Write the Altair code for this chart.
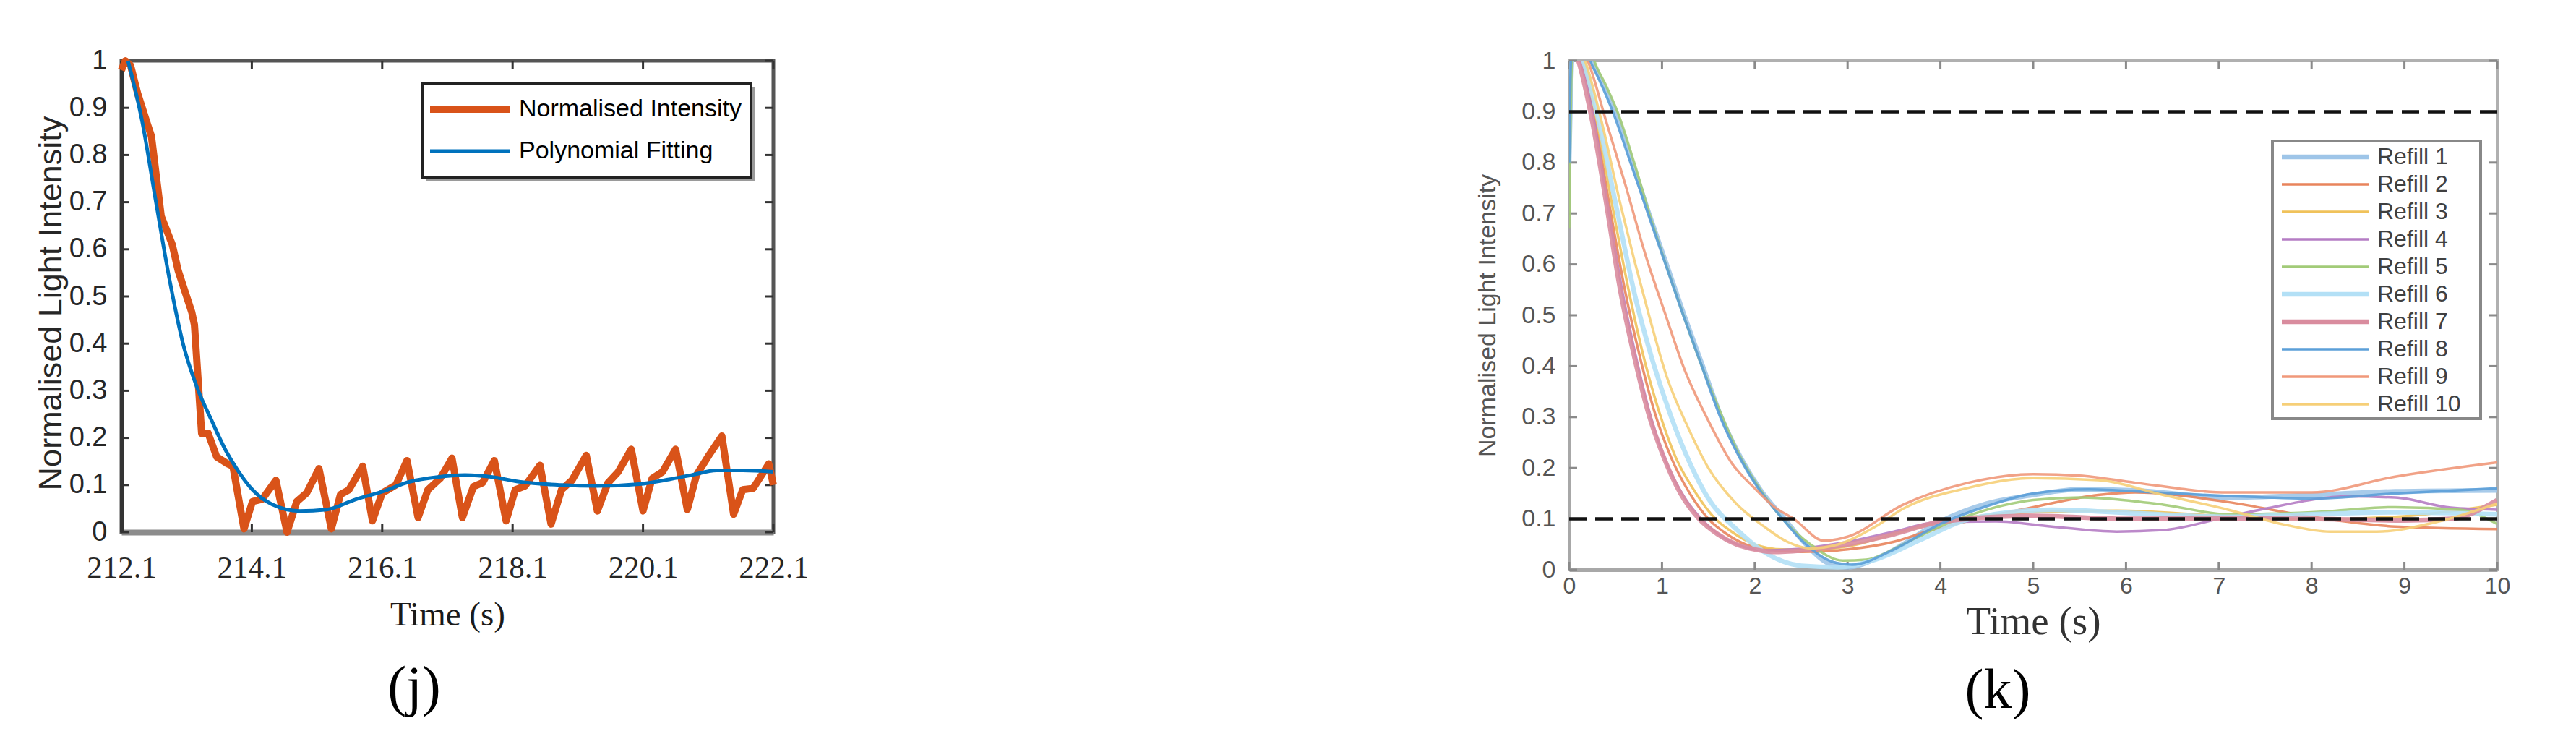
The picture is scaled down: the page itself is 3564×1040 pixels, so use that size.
import altair as alt
import pandas as pd

# ---------------- panel (j) data ----------------
J_ORANGE_T = [212.10, 212.16, 212.24, 212.35, 212.50, 212.56, 212.71, 212.88, 212.97, 213.18,
              213.22, 213.33, 213.43, 213.56, 213.73, 213.81, 213.98, 214.11, 214.26, 214.47,
              214.64, 214.79, 214.94, 215.13, 215.32, 215.46, 215.59, 215.80, 215.95, 216.10,
              216.31, 216.48, 216.65, 216.80, 216.99, 217.17, 217.33, 217.50, 217.64, 217.82,
              218.00, 218.14, 218.29, 218.52, 218.69, 218.85, 219.01, 219.23, 219.40, 219.56,
              219.72, 219.92, 220.10, 220.24, 220.40, 220.60, 220.78, 220.92, 221.11, 221.31,
              221.49, 221.63, 221.79, 222.03, 222.10]
J_ORANGE_V = [0.98, 1.00, 0.99, 0.93, 0.865, 0.84, 0.67, 0.61, 0.555, 0.466,
              0.44, 0.21, 0.21, 0.16, 0.145, 0.14, 0.007, 0.065, 0.07, 0.11,
              0.0, 0.065, 0.083, 0.135, 0.007, 0.08, 0.09, 0.14, 0.024, 0.083,
              0.10, 0.152, 0.031, 0.09, 0.114, 0.157, 0.031, 0.097, 0.105, 0.152,
              0.024, 0.09, 0.098, 0.142, 0.017, 0.09, 0.11, 0.163, 0.045, 0.104,
              0.128, 0.176, 0.045, 0.114, 0.128, 0.176, 0.048, 0.121, 0.163, 0.204,
              0.038, 0.09, 0.093, 0.145, 0.10]
J_FIT_T = [212.20, 212.42, 212.63, 212.84, 213.05, 213.26, 213.48, 213.69, 213.90, 214.11,
           214.41, 214.83, 215.25, 215.68, 216.10, 216.52, 216.95, 217.37, 217.79, 218.20,
           218.85, 219.40, 220.04, 220.50, 220.84, 221.23, 221.63, 222.10]
J_FIT_V = [1.0, 0.87, 0.70, 0.534, 0.397, 0.307, 0.238, 0.176, 0.128, 0.09,
           0.059, 0.045, 0.048, 0.069, 0.086, 0.107, 0.117, 0.121, 0.117, 0.107,
           0.10, 0.098, 0.102, 0.112, 0.121, 0.131, 0.131, 0.128]
J_SERIES = ["Normalised Intensity", "Polynomial Fitting"]
J_COLORS = ["#D95319", "#0072BD"]
J_WIDTHS = [10, 5]
J_XTICKS = [212.1, 214.1, 216.1, 218.1, 220.1, 222.1]
J_YTICKS = [0, 0.1, 0.2, 0.3, 0.4, 0.5, 0.6, 0.7, 0.8, 0.9, 1]

# ---------------- panel (k) data ----------------
K_R1_T = [0, 0.03, 0.1, 0.2, 0.35, 0.5, 0.68, 0.86, 1.05, 1.24, 1.44, 1.64, 1.85, 2.05, 2.32, 2.55, 2.8, 3.0, 3.4, 4.0, 4.5, 5.0, 5.5, 6.1, 7.1, 8.0, 8.9, 10]
K_R1_V = [0.8, 1.0, 1.08, 1.02, 0.96, 0.9, 0.8, 0.7, 0.6, 0.5, 0.4, 0.3, 0.22, 0.16, 0.1, 0.05, 0.012, 0.005, 0.03, 0.095, 0.13, 0.147, 0.158, 0.156, 0.142, 0.147, 0.154, 0.156]
K_R2_T = [0, 0.13, 0.28, 0.44, 0.6, 0.76, 0.92, 1.1, 1.3, 1.5, 1.7, 1.9, 2.15, 2.5, 3.0, 3.5, 3.85, 4.4, 5.0, 5.7, 6.1, 7.1, 8.0, 8.9, 10]
K_R2_V = [1.05, 1.0, 0.88, 0.71, 0.55, 0.42, 0.31, 0.22, 0.15, 0.1, 0.07, 0.05, 0.04, 0.035, 0.04, 0.055, 0.075, 0.1, 0.123, 0.147, 0.152, 0.133, 0.104, 0.085, 0.08]
K_R3_T = [0, 0.15, 0.3, 0.47, 0.64, 0.8, 0.97, 1.15, 1.35, 1.55, 1.75, 2.0, 2.3, 2.7, 3.0, 3.5, 4.0, 5.0, 5.9, 7.0, 8.0, 8.9, 10]
K_R3_V = [1.05, 1.0, 0.88, 0.71, 0.55, 0.42, 0.31, 0.22, 0.155, 0.105, 0.075, 0.05, 0.04, 0.04, 0.046, 0.07, 0.094, 0.113, 0.116, 0.106, 0.099, 0.104, 0.128]
K_R4_T = [0, 0.12, 0.27, 0.42, 0.58, 0.73, 0.88, 1.05, 1.25, 1.45, 1.65, 1.85, 2.1, 2.4, 3.0, 3.5, 4.0, 4.6, 5.2, 5.9, 6.4, 7.0, 7.5, 8.4, 8.9, 9.5, 10]
K_R4_V = [1.05, 1.0, 0.88, 0.71, 0.54, 0.41, 0.3, 0.21, 0.14, 0.095, 0.065, 0.047, 0.038, 0.04, 0.055, 0.075, 0.094, 0.095, 0.085, 0.075, 0.078, 0.1, 0.12, 0.144, 0.142, 0.122, 0.118]
K_R5_T = [0, 0.03, 0.15, 0.27, 0.4, 0.52, 0.7, 0.88, 1.06, 1.25, 1.45, 1.65, 1.85, 2.05, 2.3, 2.6, 2.95, 3.2, 3.6, 4.0, 5.0, 5.5, 6.4, 7.1, 8.0, 8.9, 9.6, 10]
K_R5_V = [0.67, 1.0, 1.08, 1.0, 0.95, 0.9, 0.8, 0.69, 0.59, 0.49, 0.39, 0.3, 0.22, 0.16, 0.1, 0.05, 0.018, 0.02, 0.05, 0.085, 0.137, 0.142, 0.128, 0.109, 0.113, 0.123, 0.118, 0.09]
K_R6_T = [0, 0.15, 0.32, 0.5, 0.72, 0.9, 1.1, 1.3, 1.5, 1.8, 2.1, 2.5, 2.9, 3.3, 3.8, 4.3, 5.2, 6.1, 7.1, 8.0, 8.9, 10]
K_R6_V = [1.05, 1.0, 0.88, 0.72, 0.53, 0.41, 0.3, 0.21, 0.14, 0.08, 0.035, 0.008, 0.005, 0.02, 0.06, 0.099, 0.118, 0.111, 0.104, 0.109, 0.113, 0.109]
K_R7_T = [0, 0.1, 0.25, 0.4, 0.55, 0.7, 0.85, 1.0, 1.2, 1.4, 1.6, 1.8, 2.0, 2.2, 2.5, 3.0, 3.5, 4.0, 5.0, 6.0, 7.0, 8.0, 9.0, 9.5, 10]
K_R7_V = [1.05, 1.0, 0.88, 0.72, 0.55, 0.42, 0.31, 0.23, 0.15, 0.1, 0.07, 0.05, 0.04, 0.035, 0.038, 0.05, 0.07, 0.094, 0.106, 0.1, 0.101, 0.1, 0.097, 0.1, 0.137]
K_R8_T = [0, 0.02, 0.1, 0.2, 0.33, 0.47, 0.66, 0.85, 1.04, 1.23, 1.43, 1.63, 1.84, 2.04, 2.3, 2.55, 2.85, 3.05, 3.5, 4.0, 4.5, 5.0, 5.6, 6.3, 7.1, 8.0, 8.9, 10]
K_R8_V = [0.8, 1.0, 1.06, 1.01, 0.96, 0.9, 0.8, 0.7, 0.6, 0.5, 0.4, 0.3, 0.22, 0.16, 0.1, 0.05, 0.015, 0.01, 0.04, 0.09, 0.125, 0.15, 0.158, 0.152, 0.145, 0.14, 0.15, 0.16]
K_R9_T = [0, 0.2, 0.4, 0.6, 0.82, 1.04, 1.25, 1.48, 1.75, 2.0, 2.2, 2.42, 2.75, 3.0, 3.6, 4.3, 5.0, 5.5, 6.1, 7.1, 8.0, 8.9, 10]
K_R9_V = [1.05, 1.0, 0.88, 0.76, 0.62, 0.5, 0.39, 0.3, 0.21, 0.16, 0.125, 0.1, 0.057, 0.065, 0.128, 0.171, 0.188, 0.185, 0.171, 0.152, 0.152, 0.183, 0.211]
K_R10_T = [0, 0.17, 0.35, 0.55, 0.86, 1.05, 1.28, 1.5, 1.8, 2.1, 2.35, 2.6, 2.9, 3.3, 3.6, 4.3, 5.0, 5.7, 6.4, 7.1, 7.7, 8.2, 8.7, 9.35, 10]
K_R10_V = [1.05, 1.0, 0.88, 0.72, 0.5, 0.38, 0.28, 0.2, 0.13, 0.085, 0.055, 0.042, 0.05, 0.085, 0.12, 0.161, 0.18, 0.176, 0.147, 0.118, 0.089, 0.075, 0.075, 0.094, 0.13]
K_SERIES = ["Refill 1", "Refill 2", "Refill 3", "Refill 4", "Refill 5",
            "Refill 6", "Refill 7", "Refill 8", "Refill 9", "Refill 10"]
K_COLORS = ["#9EC5E8", "#E8845C", "#F0C25A", "#B57CC4", "#A2CB78",
            "#B3E0F6", "#D98C9E", "#5B9FD8", "#F0987A", "#F6CF78"]
K_WIDTHS = [6.5, 3.5, 3.5, 3.5, 3.5, 6.5, 6.5, 3.5, 3.5, 3.5]
K_THRESHOLDS = [0.9, 0.1]
K_XTICKS = [0, 1, 2, 3, 4, 5, 6, 7, 8, 9, 10]
K_YTICKS = [0, 0.1, 0.2, 0.3, 0.4, 0.5, 0.6, 0.7, 0.8, 0.9, 1]

# ---------------- layout ----------------
WJ, HJ = 902, 652
WK, HK = 1284, 704
TICK_LEN = 11


def frame_ticks(xticks, yticks, xdom, ydom, w, h, length):
    dx = (xdom[1] - xdom[0]) * length / w
    dy = (ydom[1] - ydom[0]) * length / h
    rows = []
    for t in xticks:
        rows.append(dict(x=t, x2=t, y=ydom[0], y2=ydom[0] + dy))
        rows.append(dict(x=t, x2=t, y=ydom[1], y2=ydom[1] - dy))
    for v in yticks:
        rows.append(dict(x=xdom[0], x2=xdom[0] + dx, y=v, y2=v))
        rows.append(dict(x=xdom[1], x2=xdom[1] - dx, y=v, y2=v))
    return pd.DataFrame(rows)


def legend_layers(series, colors, widths, box, row0, step, sym0, sym1, label_x,
                  font_size, label_color, box_color, box_width, shadow_color=None):
    """Box legend inside the plot area (pixel positions are layout constants)."""
    items = pd.DataFrame({"series": series, "color": colors, "w": widths,
                          "py": [row0 + i * step for i in range(len(series))]})
    one = pd.DataFrame({"k": [0]})
    layers = []
    if shadow_color:
        layers.append(alt.Chart(one).mark_rect(fill=shadow_color).encode(
            x=alt.value(box[0] + 5), x2=alt.value(box[1] + 5),
            y=alt.value(box[2] + 5), y2=alt.value(box[3] + 5)))
    layers.append(alt.Chart(one).mark_rect(fill="white", stroke=box_color, strokeWidth=box_width).encode(
        x=alt.value(box[0]), x2=alt.value(box[1]), y=alt.value(box[2]), y2=alt.value(box[3])))
    layers.append(alt.Chart(items).mark_rule().encode(
        x=alt.value(sym0), x2=alt.value(sym1), y=alt.Y("py:Q", scale=None),
        color=alt.Color("color:N", scale=None, legend=None),
        strokeWidth=alt.StrokeWidth("w:Q", scale=None, legend=None)))
    layers.append(alt.Chart(items).mark_text(
        align="left", baseline="middle", font="Liberation Sans", fontSize=font_size,
        color=label_color).encode(x=alt.value(label_x), y=alt.Y("py:Q", scale=None), text="series:N"))
    return layers


# ================= panel (j) =================
XDOM_J = [212.1, 222.1]
YDOM = [0, 1]
xs_j = alt.Scale(domain=XDOM_J, nice=False, zero=False)
ys_j = alt.Scale(domain=YDOM, nice=False, zero=False)
xa_j = alt.Axis(values=J_XTICKS, format=".1f", title="Time (s)", grid=False, ticks=False,
                domainColor="#8c8c8c", domainWidth=8, labelFont="Liberation Serif",
                labelFontSize=43, labelColor="#262626", labelPadding=28, labelFlush=False,
                labelOverlap=False, titleFont="Liberation Serif", titleFontSize=47,
                titleFontWeight="normal", titleColor="#1a1a1a", titlePadding=20)
ya_j = alt.Axis(values=J_YTICKS, format="~g", title="Normalised Light Intensity", grid=False,
                ticks=False, domainColor="#333333", domainWidth=5, labelFont="Liberation Sans",
                labelFontSize=38, labelColor="#262626", labelPadding=20, labelFlush=False,
                labelOverlap=False, titleFont="Liberation Sans", titleFontSize=45,
                titleFontWeight="normal", titleColor="#262626", titlePadding=2,
                titleY=HJ / 2 + 9)
color_j = alt.Color("series:N", scale=alt.Scale(domain=J_SERIES, range=J_COLORS), legend=None)
width_j = alt.StrokeWidth("w:Q", scale=None, legend=None)

df_orange = pd.DataFrame({"t": J_ORANGE_T, "v": J_ORANGE_V, "series": J_SERIES[0], "w": J_WIDTHS[0]})
df_fit = pd.DataFrame({"t": J_FIT_T, "v": J_FIT_V, "series": J_SERIES[1], "w": J_WIDTHS[1]})
ticks_j = frame_ticks(J_XTICKS, J_YTICKS, XDOM_J, YDOM, WJ, HJ, TICK_LEN)

tick_layer_j = alt.Chart(ticks_j).mark_rule(color="#333333", strokeWidth=3).encode(
    x=alt.X("x:Q", scale=xs_j, axis=xa_j), x2="x2:Q",
    y=alt.Y("y:Q", scale=ys_j, axis=ya_j), y2="y2:Q")
orange_layer = alt.Chart(df_orange).mark_line(strokeJoin="round").encode(
    x=alt.X("t:Q", scale=xs_j, axis=xa_j), y=alt.Y("v:Q", scale=ys_j, axis=ya_j),
    color=color_j, strokeWidth=width_j)
fit_layer = alt.Chart(df_fit).mark_line(interpolate="monotone").encode(
    x=alt.X("t:Q", scale=xs_j, axis=xa_j), y=alt.Y("v:Q", scale=ys_j, axis=ya_j),
    color=color_j, strokeWidth=width_j)
leg_j = legend_layers(J_SERIES, J_COLORS, J_WIDTHS, box=(416, 871, 31, 161), row0=67, step=58,
                      sym0=427, sym1=538, label_x=550, font_size=34, label_color="black",
                      box_color="#222222", box_width=4, shadow_color="#9a9a9a")

left = alt.layer(tick_layer_j, orange_layer, fit_layer, *leg_j).properties(
    width=WJ, height=HJ,
    view=alt.ViewBackground(stroke="#555555", strokeWidth=5),
    title=alt.TitleParams("(j)", orient="bottom", anchor="middle", font="Liberation Serif",
                          fontSize=78, fontWeight="normal", color="black", offset=40, dx=-46))

# ================= panel (k) =================
XDOM_K = [0, 10]
xs_k = alt.Scale(domain=XDOM_K, nice=False, zero=False)
ys_k = alt.Scale(domain=YDOM, nice=False, zero=False)
xa_k = alt.Axis(values=K_XTICKS, format="d", title="Time (s)", grid=False, ticks=False,
                domainColor="#a8a8a8", domainWidth=5, labelFont="Liberation Sans",
                labelFontSize=32, labelColor="#555555", labelPadding=7, labelFlush=False,
                labelOverlap=False, titleFont="Liberation Serif", titleFontSize=55,
                titleFontWeight="normal", titleColor="#333333", titlePadding=7)
ya_k = alt.Axis(values=K_YTICKS, format="~g", title="Normalised Light Intensity", grid=False,
                ticks=False, domainColor="#a8a8a8", domainWidth=5, labelFont="Liberation Sans",
                labelFontSize=34, labelColor="#555555", labelPadding=19, labelFlush=False,
                labelOverlap=False, titleFont="Liberation Sans", titleFontSize=34,
                titleFontWeight="normal", titleColor="#555555", titlePadding=29)

frames = []
for name, wdt, t, v in zip(K_SERIES, K_WIDTHS,
                           [K_R1_T, K_R2_T, K_R3_T, K_R4_T, K_R5_T, K_R6_T, K_R7_T, K_R8_T, K_R9_T, K_R10_T],
                           [K_R1_V, K_R2_V, K_R3_V, K_R4_V, K_R5_V, K_R6_V, K_R7_V, K_R8_V, K_R9_V, K_R10_V]):
    frames.append(pd.DataFrame({"t": t, "v": v, "series": name, "w": wdt}))
df_k = pd.concat(frames, ignore_index=True)
ticks_k = frame_ticks(K_XTICKS, K_YTICKS, XDOM_K, YDOM, WK, HK, TICK_LEN)

tick_layer_k = alt.Chart(ticks_k).mark_rule(color="#8a8a8a", strokeWidth=3).encode(
    x=alt.X("x:Q", scale=xs_k, axis=xa_k), x2="x2:Q",
    y=alt.Y("y:Q", scale=ys_k, axis=ya_k), y2="y2:Q")
lines_k = alt.Chart(df_k).mark_line(interpolate="monotone", clip=True, opacity=0.9).encode(
    x=alt.X("t:Q", scale=xs_k, axis=xa_k), y=alt.Y("v:Q", scale=ys_k, axis=ya_k),
    color=alt.Color("series:N", scale=alt.Scale(domain=K_SERIES, range=K_COLORS), legend=None),
    strokeWidth=alt.StrokeWidth("w:Q", scale=None, legend=None))
thr_k = alt.Chart(pd.DataFrame({"v": K_THRESHOLDS})).mark_rule(
    color="#111111", strokeWidth=4.5, strokeDash=[24, 12]).encode(
    y=alt.Y("v:Q", scale=ys_k, axis=ya_k))
leg_k = legend_layers(K_SERIES, K_COLORS, K_WIDTHS, box=(973, 1261, 111, 495), row0=133, step=38,
                      sym0=986, sym1=1106, label_x=1118, font_size=32, label_color="#404040",
                      box_color="#888888", box_width=4)

right = alt.layer(tick_layer_k, lines_k, thr_k, *leg_k).properties(
    width=WK, height=HK,
    view=alt.ViewBackground(stroke="#b0b0b0", strokeWidth=4),
    title=alt.TitleParams("(k)", orient="bottom", anchor="middle", font="Liberation Serif",
                          fontSize=78, fontWeight="normal", color="black", offset=30, dx=-49))

chart = alt.hconcat(left, right, spacing=918).properties(
    padding={"left": 37, "top": 54, "right": 10, "bottom": 5},
    background="white",
).resolve_scale(color="independent", x="independent", y="independent")

chart.save("out.html", embed_options={"renderer": "svg", "actions": False})
